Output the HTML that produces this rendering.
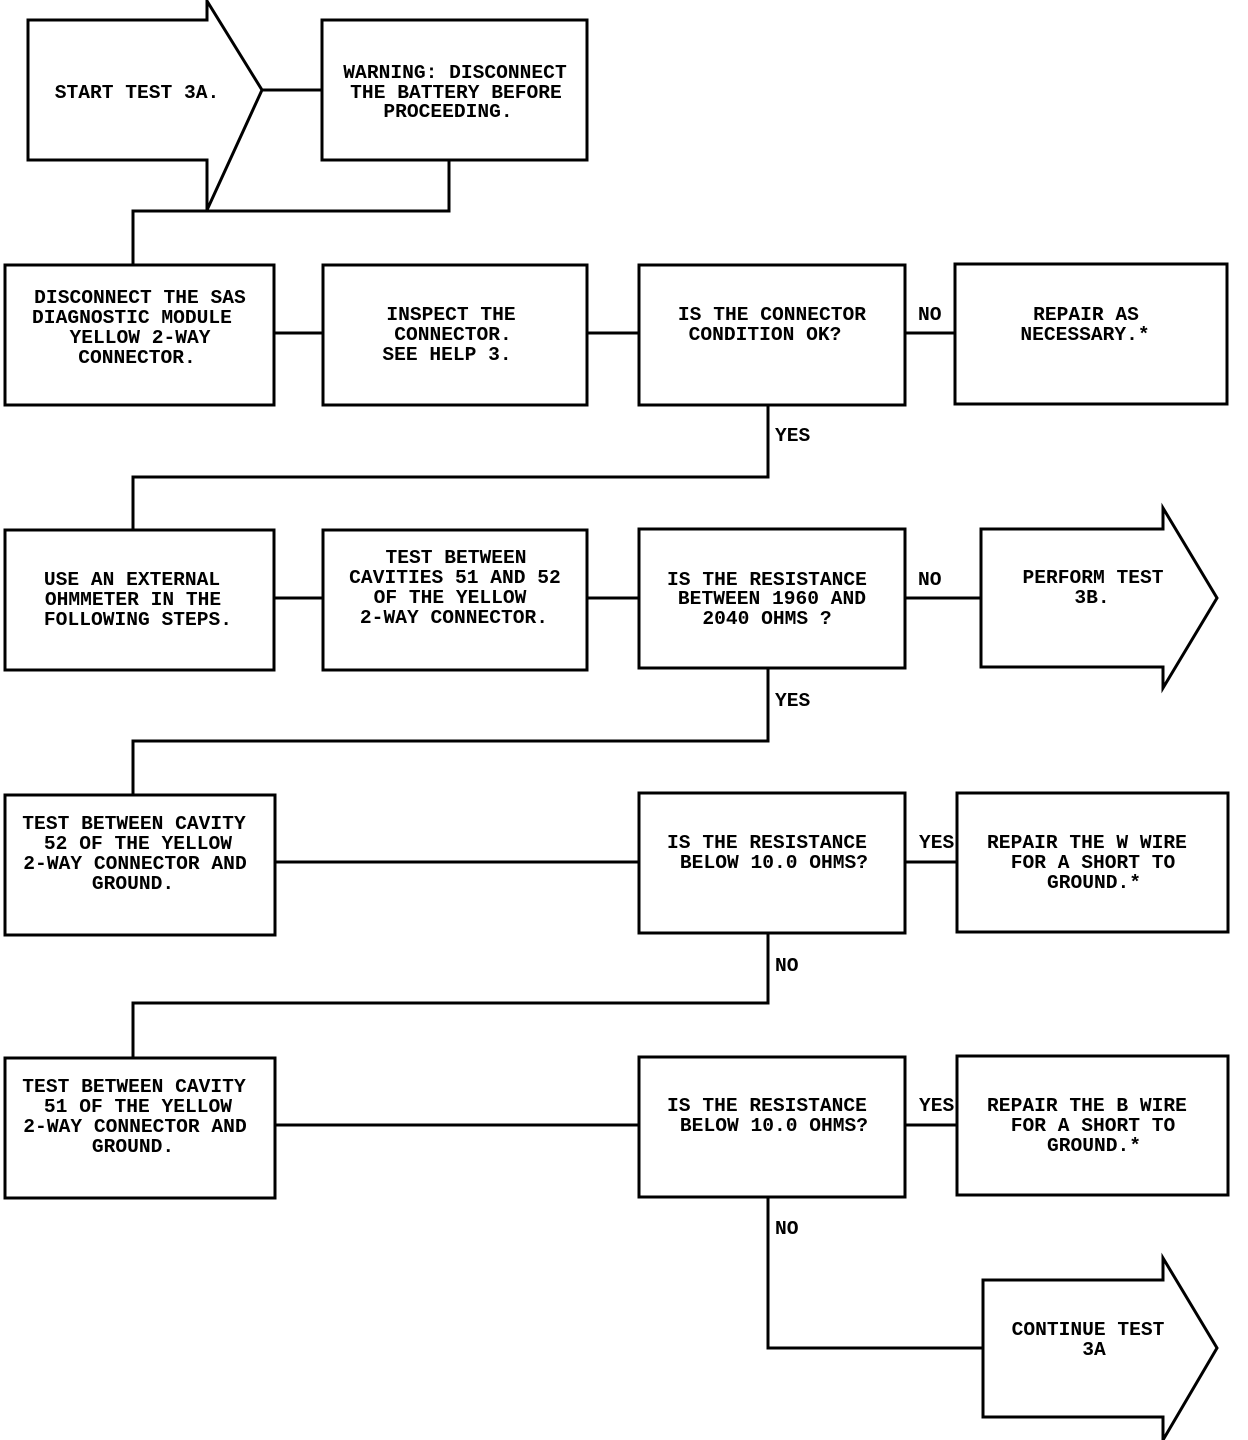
<!DOCTYPE html>
<html><head><meta charset="utf-8"><style>
html,body{margin:0;padding:0;background:#fff;}
svg{display:block;}
text{font-family:"Liberation Mono",monospace;font-weight:bold;font-size:19.6px;fill:#000;text-anchor:middle;}
.l{text-anchor:start;}
</style></head><body>
<svg width="1248" height="1440" viewBox="0 0 1248 1440" xmlns="http://www.w3.org/2000/svg">
<g fill="none" stroke="#000" stroke-width="3" stroke-linejoin="miter">
<!-- start arrow -->
<polygon points="28,20 207,20 207,1 262,90 207,210 207,160 28,160"/>
<rect x="322" y="20" width="265" height="140"/>
<polyline points="262,90 322,90"/>
<polyline points="449,160 449,211 133,211 133,265"/>
<!-- row2 -->
<rect x="5" y="265" width="269" height="140"/>
<rect x="323" y="265" width="264" height="140"/>
<rect x="639" y="265" width="266" height="140"/>
<rect x="955" y="264" width="272" height="140"/>
<line x1="274" y1="333" x2="323" y2="333"/>
<line x1="587" y1="333" x2="639" y2="333"/>
<line x1="905" y1="333" x2="955" y2="333"/>
<polyline points="768,405 768,477 133,477 133,530"/>
<!-- row3 -->
<rect x="5" y="530" width="269" height="140"/>
<rect x="323" y="530" width="264" height="140"/>
<rect x="639" y="529" width="266" height="139"/>
<polygon points="981,529 1163,529 1163,508 1217,598 1163,688 1163,667 981,667"/>
<line x1="274" y1="598" x2="323" y2="598"/>
<line x1="587" y1="598" x2="639" y2="598"/>
<line x1="905" y1="598" x2="981" y2="598"/>
<polyline points="768,668 768,741 133,741 133,795"/>
<!-- row4 -->
<rect x="5" y="795" width="270" height="140"/>
<rect x="639" y="793" width="266" height="140"/>
<rect x="957" y="793" width="271" height="139"/>
<line x1="275" y1="862" x2="639" y2="862"/>
<line x1="905" y1="862" x2="957" y2="862"/>
<polyline points="768,933 768,1003 133,1003 133,1058"/>
<!-- row5 -->
<rect x="5" y="1058" width="270" height="140"/>
<rect x="639" y="1057" width="266" height="140"/>
<rect x="957" y="1056" width="271" height="139"/>
<line x1="275" y1="1125" x2="639" y2="1125"/>
<line x1="905" y1="1125" x2="957" y2="1125"/>
<polyline points="768,1197 768,1348 983,1348"/>
<polygon points="983,1280 1163,1280 1163,1258 1217,1348 1163,1440 1163,1417 983,1417"/>
</g>
<text x="137" y="98">START TEST 3A.</text>
<text x="455" y="78">WARNING:  DISCONNECT</text>
<text x="456" y="98">THE BATTERY BEFORE</text>
<text x="448" y="117">PROCEEDING.</text>

<text x="140" y="303">DISCONNECT THE SAS</text>
<text x="132" y="323">DIAGNOSTIC MODULE</text>
<text x="140" y="343">YELLOW 2-WAY</text>
<text x="137" y="363">CONNECTOR.</text>
<text x="451" y="320">INSPECT THE</text>
<text x="453" y="340">CONNECTOR.</text>
<text x="447" y="360">SEE HELP 3.</text>
<text x="772" y="320">IS THE CONNECTOR</text>
<text x="765" y="340">CONDITION OK?</text>
<text x="1086" y="320">REPAIR AS</text>
<text x="1085" y="340">NECESSARY.*</text>
<text class="l" x="918" y="320">NO</text>
<text class="l" x="775" y="441">YES</text>

<text x="132" y="585">USE AN EXTERNAL</text>
<text x="133" y="605">OHMMETER IN THE</text>
<text x="138" y="625">FOLLOWING STEPS.</text>
<text x="456" y="563">TEST BETWEEN</text>
<text x="455" y="583">CAVITIES 51 AND 52</text>
<text x="450" y="603">OF THE YELLOW</text>
<text x="454" y="623">2-WAY CONNECTOR.</text>
<text x="767" y="585">IS THE RESISTANCE</text>
<text x="772" y="604">BETWEEN 1960 AND</text>
<text x="767" y="624">2040 OHMS ?</text>
<text x="1093" y="583">PERFORM TEST</text>
<text x="1092" y="603">3B.</text>
<text class="l" x="918" y="585">NO</text>
<text class="l" x="775" y="706">YES</text>

<text x="134" y="829">TEST BETWEEN CAVITY</text>
<text x="138" y="849">52 OF THE YELLOW</text>
<text x="135" y="869">2-WAY CONNECTOR AND</text>
<text x="133" y="889">GROUND.</text>
<text x="767" y="848">IS THE RESISTANCE</text>
<text x="774" y="868">BELOW 10.0 OHMS?</text>
<text x="1087" y="848">REPAIR THE W WIRE</text>
<text x="1093" y="868">FOR A SHORT TO</text>
<text x="1094" y="888">GROUND.*</text>
<text class="l" x="919" y="848">YES</text>
<text class="l" x="775" y="971">NO</text>

<text x="134" y="1092">TEST BETWEEN CAVITY</text>
<text x="138" y="1112">51 OF THE YELLOW</text>
<text x="135" y="1132">2-WAY CONNECTOR AND</text>
<text x="133" y="1152">GROUND.</text>
<text x="767" y="1111">IS THE RESISTANCE</text>
<text x="774" y="1131">BELOW 10.0 OHMS?</text>
<text x="1087" y="1111">REPAIR THE B WIRE</text>
<text x="1093" y="1131">FOR A SHORT TO</text>
<text x="1094" y="1151">GROUND.*</text>
<text class="l" x="919" y="1111">YES</text>
<text class="l" x="775" y="1234">NO</text>

<text x="1088" y="1335">CONTINUE TEST</text>
<text x="1094" y="1355">3A</text>
</svg>
</body></html>
